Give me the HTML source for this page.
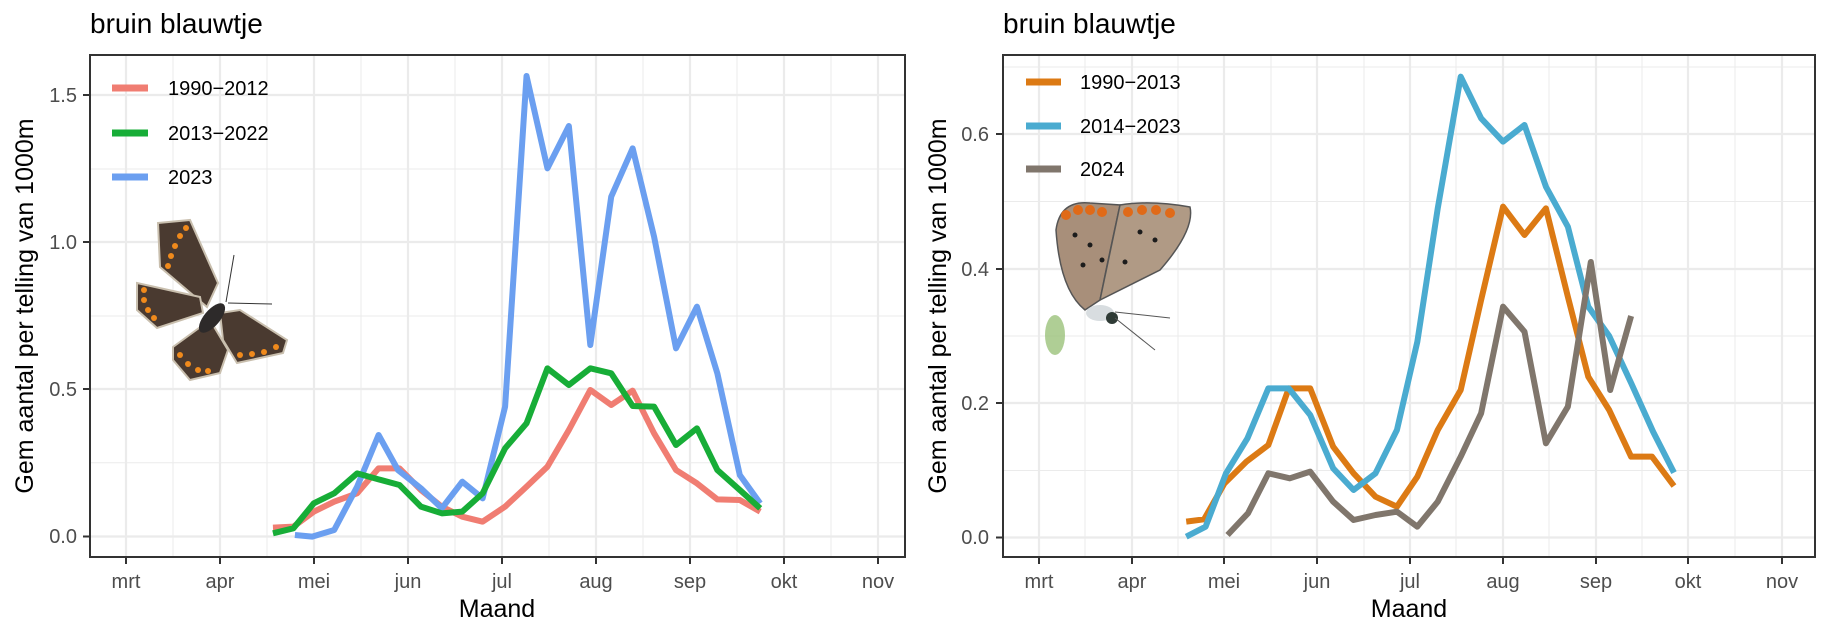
<!DOCTYPE html>
<html><head><meta charset="utf-8"><style>
html,body{margin:0;padding:0;background:#fff;}
svg{display:block;font-family:"Liberation Sans",Arial,sans-serif;}
</style></head><body>
<svg width="1824" height="627" viewBox="0 0 1824 627" xmlns="http://www.w3.org/2000/svg">
<rect width="1824" height="627" fill="#fff"/>
<!-- LEFT PANEL -->
<text x="90" y="33" font-size="28" fill="#000">bruin blauwtje</text>
<g stroke="#ebebeb">
 <g stroke-width="1">
  <line x1="90" x2="905" y1="462.7" y2="462.7"/><line x1="90" x2="905" y1="316" y2="316"/><line x1="90" x2="905" y1="169" y2="169"/>
  <line x1="173" x2="173" y1="55" y2="557"/><line x1="267" x2="267" y1="55" y2="557"/><line x1="361" x2="361" y1="55" y2="557"/><line x1="455" x2="455" y1="55" y2="557"/><line x1="549" x2="549" y1="55" y2="557"/><line x1="643" x2="643" y1="55" y2="557"/><line x1="737" x2="737" y1="55" y2="557"/><line x1="831" x2="831" y1="55" y2="557"/>
 </g>
 <g stroke-width="2.2">
  <line x1="90" x2="905" y1="536.5" y2="536.5"/><line x1="90" x2="905" y1="389" y2="389"/><line x1="90" x2="905" y1="242" y2="242"/><line x1="90" x2="905" y1="95" y2="95"/>
  <line x1="126" x2="126" y1="55" y2="557"/><line x1="220" x2="220" y1="55" y2="557"/><line x1="314" x2="314" y1="55" y2="557"/><line x1="408" x2="408" y1="55" y2="557"/><line x1="502" x2="502" y1="55" y2="557"/><line x1="596" x2="596" y1="55" y2="557"/><line x1="690" x2="690" y1="55" y2="557"/><line x1="784" x2="784" y1="55" y2="557"/><line x1="878" x2="878" y1="55" y2="557"/>
 </g>
</g>
<!-- butterfly left -->
<g stroke="#c9bfae" stroke-width="2" fill="#4a3a30">
 <polygon points="158,223 190,220 218,283 207,307 160,267"/>
 <polygon points="137,283 200,297 203,313 157,328 137,310"/>
 <polygon points="173,347 210,320 228,350 220,373 190,380 173,360"/>
 <polygon points="220,313 240,310 287,340 283,353 237,363 223,340"/>
</g>
<g fill="#f08a1c">
 <circle cx="168" cy="266" r="3"/><circle cx="171" cy="256" r="3"/><circle cx="175" cy="246" r="3"/><circle cx="180" cy="236" r="3"/><circle cx="186" cy="228" r="3"/>
 <circle cx="144" cy="290" r="3"/><circle cx="144" cy="300" r="3"/><circle cx="148" cy="310" r="3"/><circle cx="154" cy="318" r="3"/>
 <circle cx="180" cy="355" r="3"/><circle cx="188" cy="364" r="3"/><circle cx="198" cy="370" r="3"/><circle cx="208" cy="371" r="3"/>
 <circle cx="240" cy="355" r="3"/><circle cx="252" cy="354" r="3"/><circle cx="264" cy="352" r="3"/><circle cx="276" cy="347" r="3"/>
</g>
<ellipse cx="212" cy="318" rx="8" ry="18" transform="rotate(40 212 318)" fill="#2d2a2a"/>
<line x1="226" y1="302" x2="234" y2="255" stroke="#333" stroke-width="1"/><line x1="228" y1="303" x2="272" y2="304" stroke="#333" stroke-width="1"/>
<!-- left series -->
<g transform="translate(0,40) scale(0.5102,0.33333)" fill="none" stroke-width="6" stroke-linejoin="round">
 <polyline vector-effect="non-scaling-stroke" stroke="#f07d72" points="535,1463 575,1460 615,1415 655,1385 700,1360 742,1285 783,1285 825,1350 866,1400 906,1430 946,1445 990,1400 1032,1340 1073,1280 1115,1170 1157,1050 1198,1095 1240,1052 1282,1180 1325,1290 1366,1330 1406,1378 1450,1380 1490,1415"/>
 <polyline vector-effect="non-scaling-stroke" stroke="#6b9ff0" points="578,1485 612,1490 655,1470 700,1340 742,1185 780,1290 825,1345 866,1405 906,1325 946,1375 990,1100 1032,108 1073,385 1115,258 1157,915 1198,470 1240,325 1282,590 1325,925 1366,800 1406,1000 1450,1305 1490,1390"/>
 <polyline vector-effect="non-scaling-stroke" stroke="#17ad37" points="535,1480 575,1465 615,1390 655,1360 700,1300 742,1318 783,1335 825,1400 866,1420 906,1415 946,1360 990,1225 1032,1150 1073,985 1115,1035 1157,985 1198,1000 1240,1098 1282,1100 1325,1215 1366,1165 1406,1290 1450,1350 1490,1405"/>
</g>
<rect x="90" y="55" width="815" height="502" fill="none" stroke="#333" stroke-width="2"/>
<!-- legend left -->
<g stroke-width="7"><line x1="112" x2="148" y1="88" y2="88" stroke="#f07d72"/><line x1="112" x2="148" y1="133" y2="133" stroke="#17ad37"/><line x1="112" x2="148" y1="177" y2="177" stroke="#6b9ff0"/></g>
<g font-size="20" fill="#000"><text x="168" y="95">1990−2012</text><text x="168" y="140">2013−2022</text><text x="168" y="184">2023</text></g>
<!-- axes left -->
<g stroke="#333" stroke-width="2"><line x1="83" x2="90" y1="536.5" y2="536.5"/><line x1="83" x2="90" y1="389" y2="389"/><line x1="83" x2="90" y1="242" y2="242"/><line x1="83" x2="90" y1="95" y2="95"/>
<line x1="126" x2="126" y1="557" y2="564"/><line x1="220" x2="220" y1="557" y2="564"/><line x1="314" x2="314" y1="557" y2="564"/><line x1="408" x2="408" y1="557" y2="564"/><line x1="502" x2="502" y1="557" y2="564"/><line x1="596" x2="596" y1="557" y2="564"/><line x1="690" x2="690" y1="557" y2="564"/><line x1="784" x2="784" y1="557" y2="564"/><line x1="878" x2="878" y1="557" y2="564"/></g>
<g font-size="20" fill="#4d4d4d" text-anchor="end"><text x="77" y="543">0.0</text><text x="77" y="396">0.5</text><text x="77" y="249">1.0</text><text x="77" y="102">1.5</text></g>
<g font-size="20" fill="#4d4d4d" text-anchor="middle"><text x="126" y="588">mrt</text><text x="220" y="588">apr</text><text x="314" y="588">mei</text><text x="408" y="588">jun</text><text x="502" y="588">jul</text><text x="596" y="588">aug</text><text x="690" y="588">sep</text><text x="784" y="588">okt</text><text x="878" y="588">nov</text></g>
<text x="497" y="617" font-size="25" text-anchor="middle">Maand</text>
<text transform="translate(33,306) rotate(-90)" font-size="25" text-anchor="middle">Gem aantal per telling van 1000m</text>

<!-- RIGHT PANEL -->
<text x="1003" y="33" font-size="28" fill="#000">bruin blauwtje</text>
<g stroke="#ebebeb">
 <g stroke-width="1">
  <line x1="1003" x2="1815" y1="470.5" y2="470.5"/><line x1="1003" x2="1815" y1="336" y2="336"/><line x1="1003" x2="1815" y1="201.5" y2="201.5"/><line x1="1003" x2="1815" y1="67" y2="67"/>
  <line x1="1085" x2="1085" y1="55" y2="557"/><line x1="1178" x2="1178" y1="55" y2="557"/><line x1="1271" x2="1271" y1="55" y2="557"/><line x1="1364" x2="1364" y1="55" y2="557"/><line x1="1456" x2="1456" y1="55" y2="557"/><line x1="1549" x2="1549" y1="55" y2="557"/><line x1="1642" x2="1642" y1="55" y2="557"/><line x1="1735" x2="1735" y1="55" y2="557"/>
 </g>
 <g stroke-width="2.2">
  <line x1="1003" x2="1815" y1="537.5" y2="537.5"/><line x1="1003" x2="1815" y1="403" y2="403"/><line x1="1003" x2="1815" y1="269" y2="269"/><line x1="1003" x2="1815" y1="134" y2="134"/>
  <line x1="1039" x2="1039" y1="55" y2="557"/><line x1="1132" x2="1132" y1="55" y2="557"/><line x1="1224" x2="1224" y1="55" y2="557"/><line x1="1317" x2="1317" y1="55" y2="557"/><line x1="1410" x2="1410" y1="55" y2="557"/><line x1="1503" x2="1503" y1="55" y2="557"/><line x1="1596" x2="1596" y1="55" y2="557"/><line x1="1688" x2="1688" y1="55" y2="557"/><line x1="1782" x2="1782" y1="55" y2="557"/>
 </g>
</g>
<!-- butterfly right -->
<g>
 <ellipse cx="1055" cy="335" rx="10" ry="20" fill="#9bc27a" opacity="0.8"/>
 <path d="M1056,230 Q1060,200 1090,203 L1120,205 Q1108,260 1100,300 L1085,310 Q1060,290 1056,230 Z" fill="#a88f7a" stroke="#555" stroke-width="1.5"/>
 <path d="M1120,205 Q1150,200 1190,207 Q1195,230 1160,270 L1100,300 Z" fill="#b09a85" stroke="#555" stroke-width="1.5"/>
 <g fill="#e06a18"><circle cx="1066" cy="215" r="5"/><circle cx="1078" cy="210" r="5"/><circle cx="1090" cy="210" r="5"/><circle cx="1102" cy="212" r="5"/><circle cx="1128" cy="212" r="5"/><circle cx="1142" cy="210" r="5"/><circle cx="1156" cy="210" r="5"/><circle cx="1170" cy="213" r="5"/></g>
 <g fill="#1c1c1c"><circle cx="1075" cy="235" r="2.5"/><circle cx="1090" cy="245" r="2.5"/><circle cx="1102" cy="260" r="2.5"/><circle cx="1083" cy="265" r="2.5"/><circle cx="1140" cy="232" r="2.5"/><circle cx="1155" cy="240" r="2.5"/><circle cx="1125" cy="262" r="2.5"/></g>
 <ellipse cx="1100" cy="313" rx="14" ry="8" fill="#d8dde0"/><circle cx="1112" cy="318" r="6" fill="#2f3b36"/>
 <line x1="1115" y1="312" x2="1170" y2="318" stroke="#555" stroke-width="1"/><line x1="1115" y1="318" x2="1155" y2="350" stroke="#555" stroke-width="1"/>
</g>
<!-- right series -->
<g transform="translate(800,40) scale(0.5102,0.33333)" fill="none" stroke-width="6" stroke-linejoin="round">
 <polyline vector-effect="non-scaling-stroke" stroke="#dc7a14" points="757,1445 792,1438 832,1330 875,1265 918,1215 958,1045 1000,1045 1045,1220 1085,1300 1128,1370 1170,1400 1210,1310 1250,1170 1295,1050 1335,780 1378,500 1420,585 1462,505 1505,770 1545,1010 1586,1110 1629,1250 1670,1250 1713,1338"/>
 <polyline vector-effect="non-scaling-stroke" stroke="#4aabd0" points="757,1490 795,1460 835,1300 877,1195 918,1045 958,1045 1000,1125 1045,1285 1085,1350 1128,1300 1170,1170 1210,905 1250,505 1295,110 1335,235 1378,305 1420,255 1462,440 1505,560 1545,800 1586,888 1629,1029 1672,1175 1713,1298"/>
 <polyline vector-effect="non-scaling-stroke" stroke="#80766c" points="838,1485 878,1420 918,1300 960,1315 1000,1295 1045,1385 1085,1440 1128,1425 1170,1415 1210,1460 1250,1385 1295,1250 1335,1120 1378,800 1420,875 1462,1210 1505,1100 1550,666 1588,1050 1629,828"/>
</g>
<rect x="1003" y="55" width="812" height="502" fill="none" stroke="#333" stroke-width="2"/>
<!-- legend right -->
<g stroke-width="7"><line x1="1026" x2="1061" y1="82" y2="82" stroke="#dc7a14"/><line x1="1026" x2="1061" y1="126" y2="126" stroke="#4aabd0"/><line x1="1026" x2="1061" y1="169" y2="169" stroke="#80766c"/></g>
<g font-size="20" fill="#000"><text x="1080" y="89">1990−2013</text><text x="1080" y="133">2014−2023</text><text x="1080" y="176">2024</text></g>
<g stroke="#333" stroke-width="2"><line x1="996" x2="1003" y1="537.5" y2="537.5"/><line x1="996" x2="1003" y1="403" y2="403"/><line x1="996" x2="1003" y1="269" y2="269"/><line x1="996" x2="1003" y1="134" y2="134"/>
<line x1="1039" x2="1039" y1="557" y2="564"/><line x1="1132" x2="1132" y1="557" y2="564"/><line x1="1224" x2="1224" y1="557" y2="564"/><line x1="1317" x2="1317" y1="557" y2="564"/><line x1="1410" x2="1410" y1="557" y2="564"/><line x1="1503" x2="1503" y1="557" y2="564"/><line x1="1596" x2="1596" y1="557" y2="564"/><line x1="1688" x2="1688" y1="557" y2="564"/><line x1="1782" x2="1782" y1="557" y2="564"/></g>
<g font-size="20" fill="#4d4d4d" text-anchor="end"><text x="989" y="544">0.0</text><text x="989" y="410">0.2</text><text x="989" y="276">0.4</text><text x="989" y="141">0.6</text></g>
<g font-size="20" fill="#4d4d4d" text-anchor="middle"><text x="1039" y="588">mrt</text><text x="1132" y="588">apr</text><text x="1224" y="588">mei</text><text x="1317" y="588">jun</text><text x="1410" y="588">jul</text><text x="1503" y="588">aug</text><text x="1596" y="588">sep</text><text x="1688" y="588">okt</text><text x="1782" y="588">nov</text></g>
<text x="1409" y="617" font-size="25" text-anchor="middle">Maand</text>
<text transform="translate(946,306) rotate(-90)" font-size="25" text-anchor="middle">Gem aantal per telling van 1000m</text>
</svg>
</body></html>
